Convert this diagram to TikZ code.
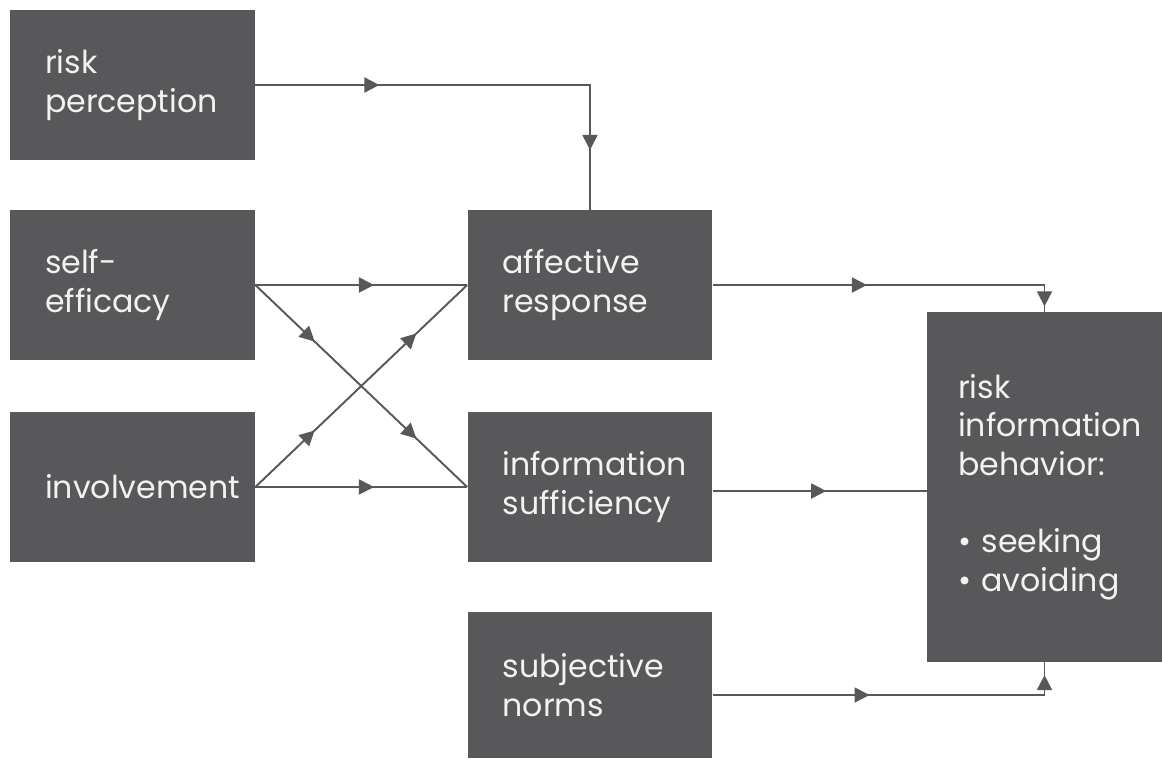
\documentclass[tikz,border=0pt]{standalone}
\usepackage{fontspec}
\setmainfont{Poppins}
\usepackage{tikz}
\usetikzlibrary{arrows.meta,decorations.markings,calc}
\definecolor{boxgray}{HTML}{58585A}
\definecolor{textwhite}{HTML}{F2F2F2}

\begin{document}
\begin{tikzpicture}[x=0.02cm, y=-0.02cm,
box_style/.style={rectangle,fill=boxgray,text=textwhite,align=left,inner ysep=0pt,
  font=\fontsize{18}{22}\selectfont},
small_box/.style={box_style,minimum width=4.9cm,minimum height=3cm,inner xsep=0.7cm,text width=3.5cm},
edge_style/.style={draw=boxgray, line width=1.1pt},
mid_arrows/.style 2 args={postaction={decorate},decoration={markings,
  mark=at position #1 with {\arrow{Triangle[length=3mm,width=3mm]}},
  mark=at position #2 with {\arrow{Triangle[length=3mm,width=3mm]}}}},
mid_arrow/.style={postaction={decorate},decoration={markings,
  mark=at position #1 with {\arrow{Triangle[length=3mm,width=3mm]}}}}]
\useasboundingbox (0,0) rectangle (1162,758);

\node[small_box] (rp) at (132.5,85) {risk\\perception};
\node[small_box] (se) at (132.5,285) {self-\\efficacy};
\node[small_box] (inv) at (132.5,487) {involvement};
\node[small_box] (ar) at (590,285) {affective\\response};
\node[small_box] (is) at (590,487) {information\\sufficiency};
\node[small_box,minimum height=2.92cm] (sn) at (590,685) {subjective\\norms};
\node[box_style,minimum width=4.7cm,minimum height=7cm,inner xsep=0.62cm,text width=3.46cm]
  (rib) at (1044.5,487) {risk\\information\\behavior:\\[22pt]\textbullet~seeking\\\textbullet~avoiding};

\draw[edge_style,mid_arrows={0.27}{0.87}] (rp.east) -| (ar.north);
\draw[edge_style,mid_arrow=0.56] (se.east) -- (ar.west);
\draw[edge_style,mid_arrows={0.28}{0.76}] (se.east) -- (is.west);
\draw[edge_style,mid_arrows={0.28}{0.76}] (inv.east) -- (ar.west);
\draw[edge_style,mid_arrow=0.56] (inv.east) -- (is.west);
\draw[edge_style,mid_arrows={0.43}{0.985}] (ar.east) -| (rib.north);
\draw[edge_style,mid_arrow=0.53] ($(is.east)+(0,4)$) -- ($(rib.west)+(0,4)$);
\draw[edge_style,mid_arrows={0.43}{0.965}] ($(sn.east)+(0,10)$) -| (rib.south);

\end{tikzpicture}
\end{document}
